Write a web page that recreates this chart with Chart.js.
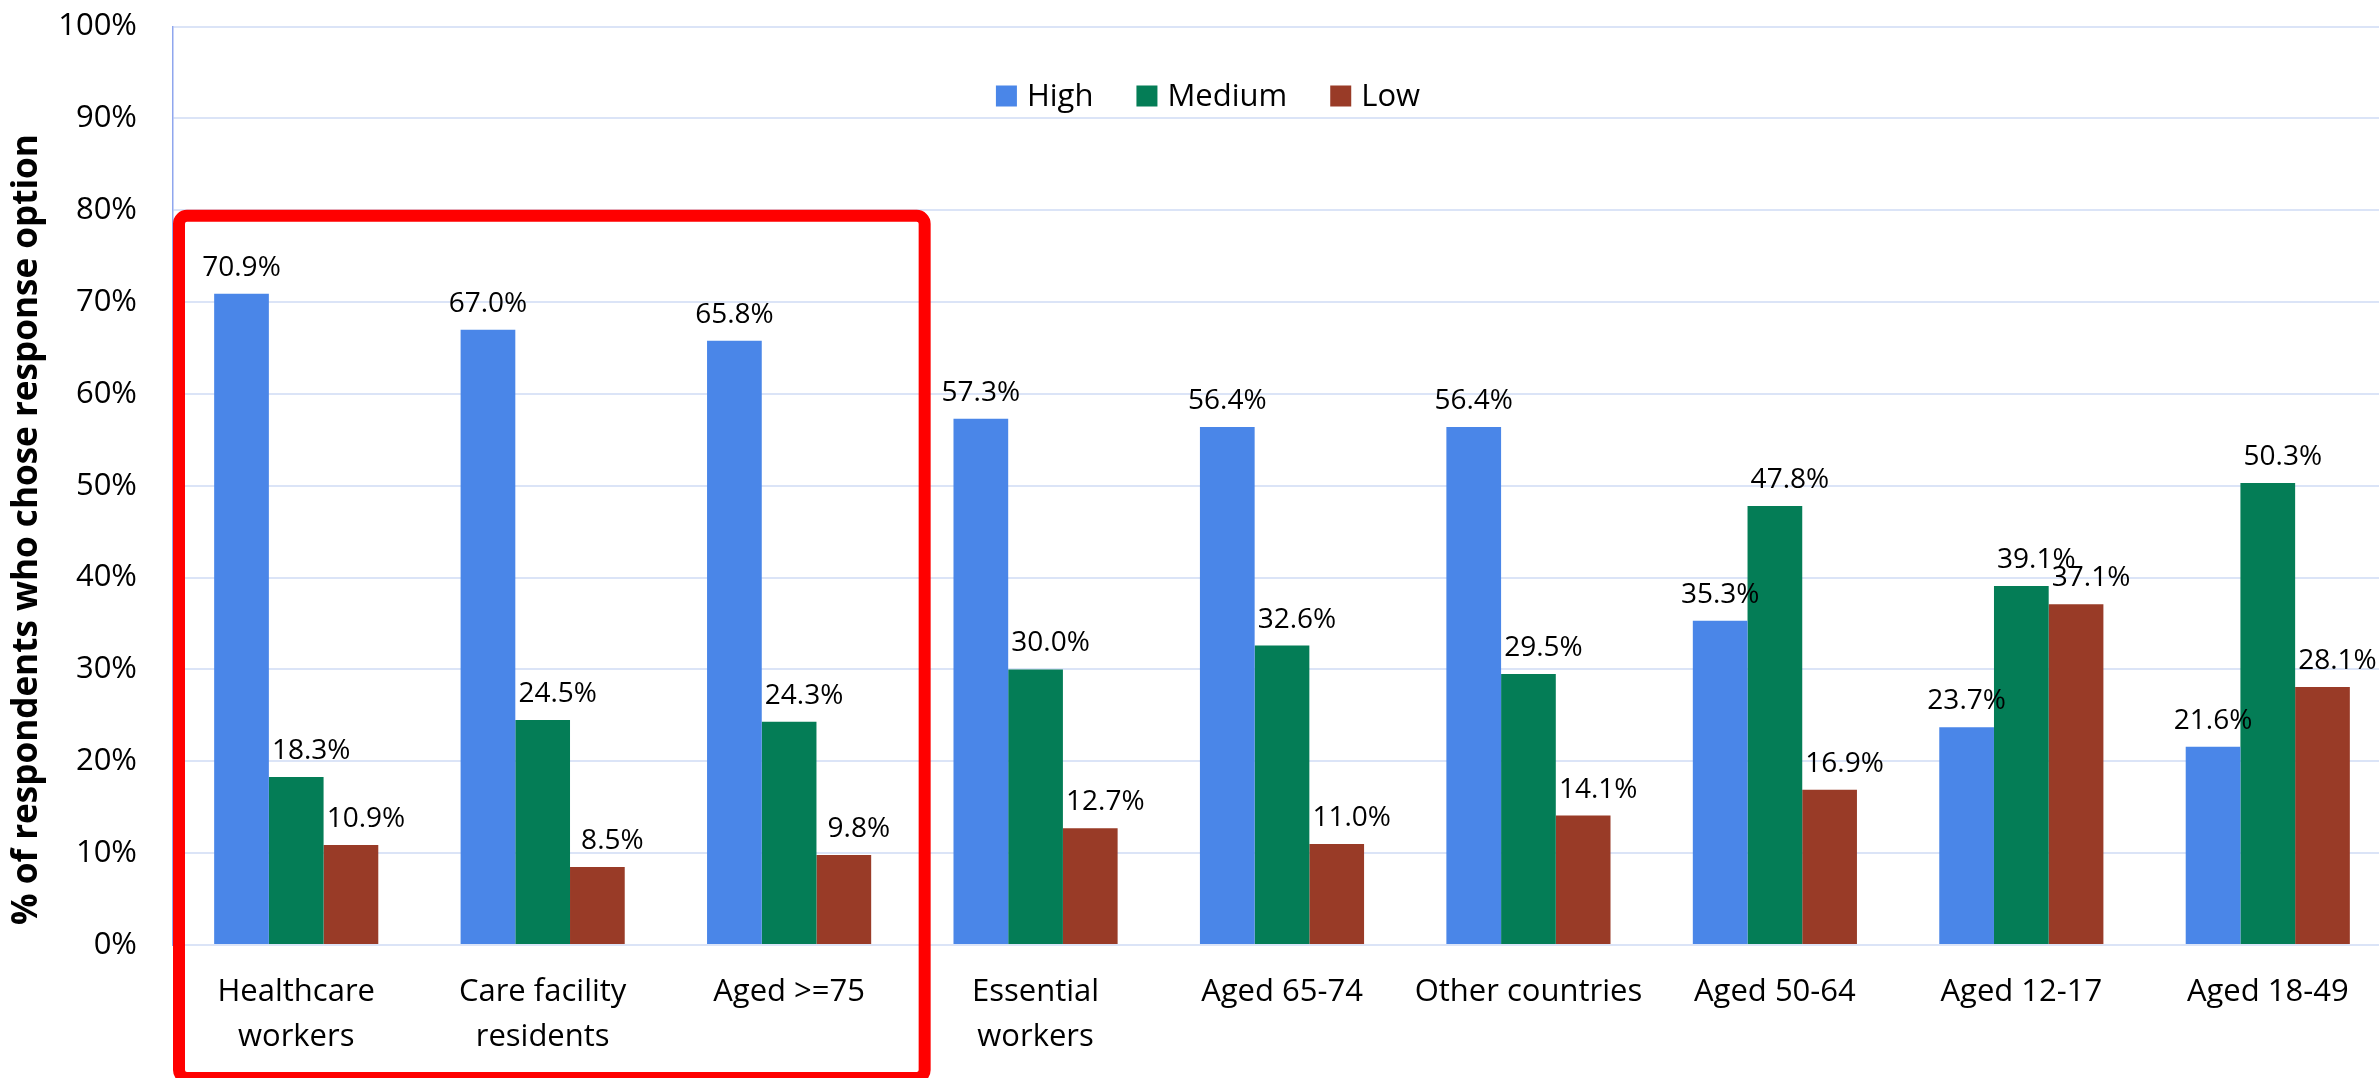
<!DOCTYPE html>
<html>
<head>
<meta charset="utf-8">
<script src="https://cdn.jsdelivr.net/npm/chart.js@4/dist/chart.umd.min.js"></script>
<style>
  html, body { margin: 0; padding: 0; background: #fff; overflow: hidden; }
  #wrap { width: 2392px; height: 1078px; position: relative; }
</style>
</head>
<body>
<div id="wrap"><canvas id="chart"></canvas></div>
<script>
const categories = [
  ["Healthcare", "workers"],
  ["Care facility", "residents"],
  "Aged >=75",
  ["Essential", "workers"],
  "Aged 65-74",
  "Other countries",
  "Aged 50-64",
  "Aged 12-17",
  "Aged 18-49"
];
const seriesNames = ["High", "Medium", "Low"];
const highValues = [70.9, 67.0, 65.8, 57.3, 56.4, 56.4, 35.3, 23.7, 21.6];
const mediumValues = [18.3, 24.5, 24.3, 30.0, 32.6, 29.5, 47.8, 39.1, 50.3];
const lowValues = [10.9, 8.5, 9.8, 12.7, 11.0, 14.1, 16.9, 37.1, 28.1];
const yTickValues = [0, 10, 20, 30, 40, 50, 60, 70, 80, 90, 100];
const yTitle = "% of respondents who chose response option";

const seriesColors = ["#4a86e8", "#047d56", "#993b27"];
const FONT = "'Open Sans', 'DejaVu Sans', sans-serif";

// value labels above bars (green/red nudged right like the original)
const barLabels = {
  id: "barLabels",
  afterDatasetsDraw(chart) {
    const ctx = chart.ctx;
    ctx.save();
    ctx.font = "28px " + FONT;
    ctx.fillStyle = "#000";
    ctx.textAlign = "center";
    ctx.textBaseline = "alphabetic";
    chart.data.datasets.forEach((ds, i) => {
      const meta = chart.getDatasetMeta(i);
      meta.data.forEach((bar, j) => {
        ctx.fillText(ds.data[j].toFixed(1) + "%", bar.x + ds.labelShift, bar.y - 18);
      });
    });
    ctx.restore();
  }
};

// legend sits inside the plot, near the top
const innerLegend = {
  id: "innerLegend",
  afterDraw(chart) {
    const ctx = chart.ctx;
    ctx.save();
    ctx.font = "31px " + FONT;
    ctx.textBaseline = "middle";
    ctx.textAlign = "left";
    const box = 21, gap = 10, itemGap = 43;
    const widths = chart.data.datasets.map(d => box + gap + ctx.measureText(d.label).width);
    const total = widths.reduce((a, b) => a + b, 0) + itemGap * (widths.length - 1);
    let x = chart.width / 2 + 12 - total / 2;
    const cy = 96;
    chart.data.datasets.forEach((d, i) => {
      ctx.fillStyle = d.backgroundColor;
      ctx.fillRect(x, cy - box / 2, box, box);
      ctx.fillStyle = "#000";
      ctx.fillText(d.label, x + box + gap, cy + 1);
      x += widths[i] + itemGap;
    });
    ctx.restore();
  }
};

// y title + red highlight box
const extras = {
  id: "extras",
  afterDraw(chart) {
    const ctx = chart.ctx;
    const xs = chart.scales.x, ys = chart.scales.y;

    // rotated axis title, sized to run from y=925 up to y=133
    ctx.save();
    ctx.font = "bold 30px " + FONT;
    const w = ctx.measureText(yTitle).width;
    const size = 30 * 792 / w;
    ctx.font = "bold " + size.toFixed(1) + "px " + FONT;
    ctx.fillStyle = "#000";
    ctx.textAlign = "left";
    ctx.textBaseline = "middle";
    ctx.setTransform(0, -1, 1, 0, 27, 925);
    ctx.fillText(yTitle, 0, 0);
    ctx.restore();

    const step = xs.getPixelForValue(1) - xs.getPixelForValue(0);
    const left = chart.chartArea.left + 6;
    const right = xs.getPixelForValue(2) + step * 0.55;
    const top = ys.getPixelForValue(79.4);
    const bottom = chart.height;
    ctx.save();
    ctx.strokeStyle = "#ff0000";
    ctx.lineWidth = 12;
    ctx.beginPath();
    ctx.roundRect(left, top, right - left, bottom - top, 8);
    ctx.stroke();
    ctx.restore();
  }
};

new Chart(document.getElementById("chart"), {
  type: "bar",
  data: {
    labels: categories,
    datasets: [
      { label: seriesNames[0], data: highValues, backgroundColor: seriesColors[0], labelShift: 0 },
      { label: seriesNames[1], data: mediumValues, backgroundColor: seriesColors[1], labelShift: 15 },
      { label: seriesNames[2], data: lowValues, backgroundColor: seriesColors[2], labelShift: 15 }
    ]
  },
  options: {
    responsive: true,
    maintainAspectRatio: false,
    animation: false,
    categoryPercentage: 0.666,
    barPercentage: 1.0,
    layout: { padding: { top: 0, right: 1, left: 0, bottom: 0 } },
    plugins: {
      legend: { display: false },
      tooltip: { enabled: false }
    },
    scales: {
      x: {
        grid: { display: false, drawTicks: false },
        border: { color: "#dbe4f7", width: 2 },
        ticks: {
          color: "#000",
          font: { family: FONT, size: 31, lineHeight: 1.45 },
          padding: 25,
          maxRotation: 0,
          autoSkip: false
        },
        afterFit(scale) { scale.height = 133; }
      },
      y: {
        min: 0,
        max: 100,
        afterBuildTicks(scale) { scale.ticks = yTickValues.map(v => ({ value: v })); },
        // invisible tick marks push the labels left without adding top padding
        grid: { color: "#dbe4f7", lineWidth: 2, drawTicks: true, tickLength: 28, tickColor: "rgba(0,0,0,0)" },
        border: { color: "#8fa6ee", width: 1.5 },
        ticks: {
          color: "#000",
          font: { family: FONT, size: 31 },
          padding: 8,
          callback: v => v + "%"
        },
        afterFit(scale) { scale.width = 173; }
      }
    }
  },
  plugins: [barLabels, innerLegend, extras]
});
</script>
</body>
</html>
